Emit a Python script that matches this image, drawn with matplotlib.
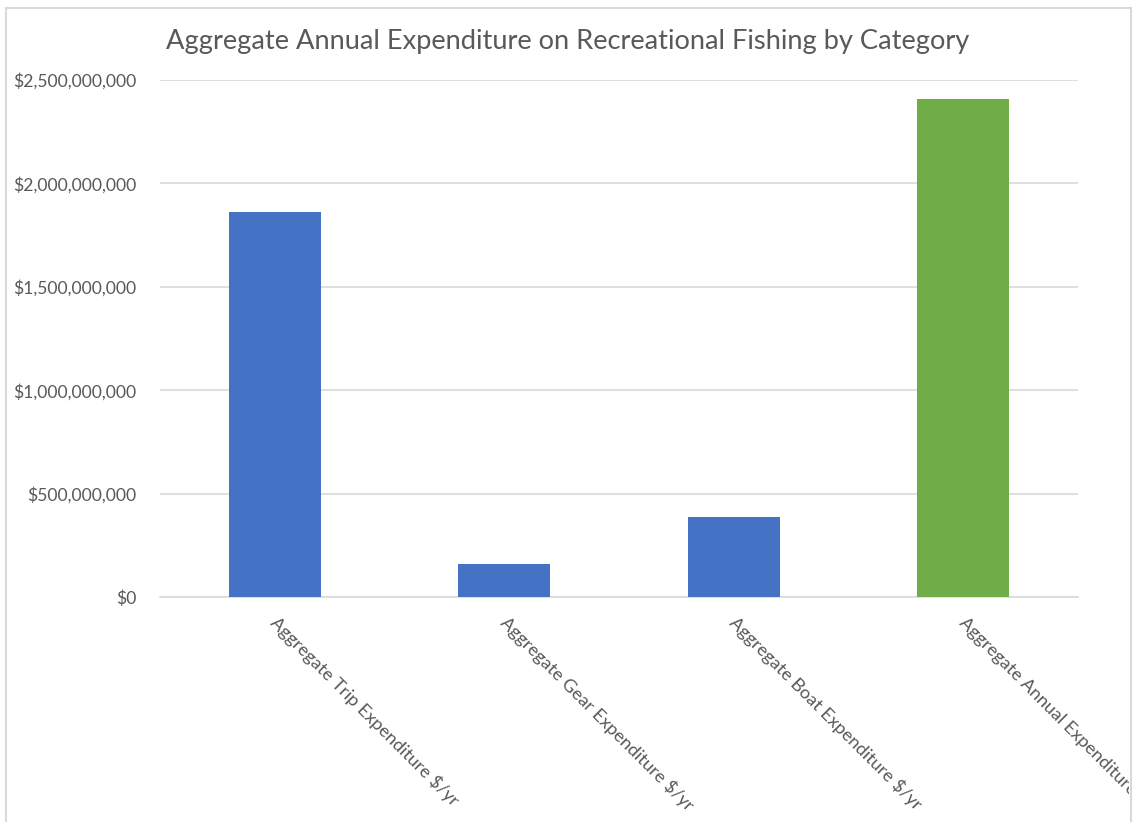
import matplotlib
matplotlib.use("Agg")
import matplotlib.pyplot as plt
from matplotlib.patches import Rectangle
from matplotlib.ticker import FuncFormatter, MultipleLocator
from matplotlib.transforms import Bbox, ScaledTranslation

categories = [
    "Aggregate Trip Expenditure $/yr",
    "Aggregate Gear Expenditure $/yr",
    "Aggregate Boat Expenditure $/yr",
    "Aggregate Annual Expenditure $/yr",
]
values = [1862000000, 160000000, 387000000, 2409000000]
bar_colors = ["#4472C4", "#4472C4", "#4472C4", "#70AD47"]
title = "Aggregate Annual Expenditure on Recreational Fishing by Category"

W, H = 1138, 822
plt.rcParams["font.family"] = ["Lato", "DejaVu Sans"]
text_color = "#595959"
grid_color = "#D9D9D9"

fig = plt.figure(figsize=(W / 100, H / 100), dpi=100)
fig.patch.set_facecolor("white")

# chart frame
fig.add_artist(Rectangle((6 / W, -0.05), (1131 - 6) / W, 1.05 - 8 / H,
                         transform=fig.transFigure, fill=False,
                         edgecolor=grid_color, linewidth=1.5))

ax = fig.add_axes([160 / W, 1 - 597 / H, (1078 - 160) / W, (597 - 80) / H])
x = range(len(categories))
ax.bar(x, values, width=0.4, color=bar_colors, zorder=3)

ax.set_xlim(-0.5, len(categories) - 0.5)
ax.set_ylim(0, 2500000000)
ax.yaxis.set_major_locator(MultipleLocator(500000000))
ax.yaxis.set_major_formatter(FuncFormatter(lambda v, p: f"${v:,.0f}"))
ax.grid(axis="y", color=grid_color, linewidth=1.2, zorder=0)
ax.set_axisbelow(True)

for side in ["top", "right", "left"]:
    ax.spines[side].set_visible(False)
ax.spines["bottom"].set_color(grid_color)
ax.spines["bottom"].set_linewidth(1.2)
ax.tick_params(axis="both", length=0, labelcolor=text_color)
ax.tick_params(axis="y", pad=17, labelsize=12.6)
ax.tick_params(axis="x", pad=12)

ax.set_xticks(list(x))
ax.set_xticklabels(categories, rotation=-45, ha="left", va="top",
                   rotation_mode="anchor", fontsize=13.1)

clip = Bbox.from_extents(6, 0, 1129, H)
shift = ScaledTranslation(5 / 100, 0, fig.dpi_scale_trans)
for lbl in ax.get_xticklabels():
    lbl.set_transform(lbl.get_transform() + shift)
    lbl.set_clip_on(True)
    lbl.set_clip_box(clip)

fig.text(568 / W, 1 - 42 / H, title, ha="center", va="center",
         fontsize=19.6, color=text_color)

fig.savefig("out.png", dpi=100, facecolor="white")
